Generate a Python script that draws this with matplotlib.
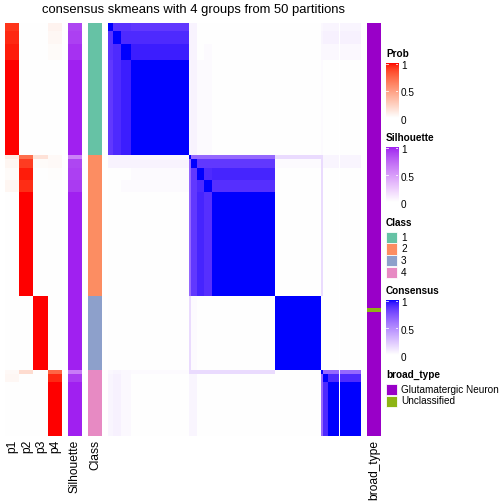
import numpy as np
import matplotlib
matplotlib.use('Agg')
import matplotlib.pyplot as plt
from matplotlib.colors import ListedColormap
from matplotlib.patches import Rectangle

plt.rcParams['font.family'] = ['Liberation Sans', 'DejaVu Sans']

# samples are ordered by class; each group is a run of samples with the same profile
# groups: A B C D | S32 E F G H | K | S84 M N
group_sizes = [2, 3, 4, 23, 1, 2, 3, 3, 25, 18, 1, 2, 13]
group_class = [1, 1, 1, 1, 2, 2, 2, 2, 2, 3, 4, 4, 4]
group_prob = [
    [0.92, 0.00, 0.00, 0.06],
    [0.95, 0.00, 0.00, 0.04],
    [0.97, 0.00, 0.00, 0.02],
    [1.00, 0.00, 0.00, 0.00],
    [0.10, 0.72, 0.15, 0.03],
    [0.05, 0.90, 0.02, 0.03],
    [0.02, 0.97, 0.00, 0.01],
    [0.05, 0.94, 0.00, 0.00],
    [0.00, 1.00, 0.00, 0.00],
    [0.00, 0.00, 1.00, 0.00],
    [0.03, 0.18, 0.00, 0.75],
    [0.04, 0.00, 0.00, 0.95],
    [0.00, 0.00, 0.00, 1.00],
]
group_sil = [0.88, 0.90, 0.95, 1.0, 0.62, 0.88, 0.90, 0.92, 1.0, 1.0, 0.65, 0.92, 1.0]
group_cons = [
    [1.00, 0.87, 0.87, 0.85, 0.05, 0.05, 0.00, 0.00, 0.00, 0.00, 0.03, 0.04, 0.04],
    [0.87, 1.00, 0.90, 0.90, 0.05, 0.05, 0.00, 0.00, 0.00, 0.00, 0.04, 0.06, 0.06],
    [0.87, 0.90, 1.00, 0.94, 0.05, 0.05, 0.00, 0.02, 0.00, 0.00, 0.03, 0.03, 0.03],
    [0.85, 0.90, 0.94, 1.00, 0.04, 0.05, 0.02, 0.02, 0.00, 0.00, 0.02, 0.00, 0.00],
    [0.05, 0.05, 0.05, 0.04, 1.00, 0.65, 0.65, 0.65, 0.65, 0.15, 0.15, 0.04, 0.04],
    [0.05, 0.05, 0.05, 0.05, 0.65, 1.00, 0.85, 0.85, 0.85, 0.02, 0.15, 0.04, 0.04],
    [0.00, 0.00, 0.00, 0.02, 0.65, 0.85, 1.00, 0.90, 0.92, 0.00, 0.15, 0.00, 0.00],
    [0.00, 0.00, 0.02, 0.02, 0.65, 0.85, 0.90, 1.00, 0.88, 0.00, 0.15, 0.00, 0.00],
    [0.00, 0.00, 0.00, 0.00, 0.65, 0.85, 0.92, 0.88, 1.00, 0.00, 0.15, 0.00, 0.00],
    [0.00, 0.00, 0.00, 0.00, 0.15, 0.02, 0.00, 0.00, 0.00, 1.00, 0.00, 0.00, 0.00],
    [0.03, 0.04, 0.03, 0.02, 0.15, 0.15, 0.15, 0.15, 0.15, 0.00, 1.00, 0.65, 0.65],
    [0.04, 0.06, 0.03, 0.00, 0.04, 0.04, 0.00, 0.00, 0.00, 0.00, 0.65, 1.00, 0.90],
    [0.04, 0.06, 0.03, 0.00, 0.04, 0.04, 0.00, 0.00, 0.00, 0.00, 0.65, 0.90, 1.00],
]
unclassified_samples = [69]

class_labels = ['1', '2', '3', '4']
class_colors = ['#66C2A5', '#FC8D62', '#8DA0CB', '#E78AC3']
type_labels = ['Glutamatergic Neuron', 'Unclassified']
type_colors = ['#9900C8', '#8DB414']
prob_names = ['p1', 'p2', 'p3', 'p4']
title = 'consensus skmeans with 4 groups from 50 partitions'

# expand groups to samples
g = np.repeat(np.arange(len(group_sizes)), group_sizes)
prob = np.array(group_prob)[g]
sil = np.array(group_sil)[g]
cls = np.array(group_class)[g]
cons = np.array(group_cons)[np.ix_(g, g)]
btype = np.zeros(len(g), int)
btype[unclassified_samples] = 1


# white -> colour ramps interpolated in LAB like circlize::colorRamp2
def to_lab(c):
    rgb = np.array(matplotlib.colors.to_rgb(c))
    lin = np.where(rgb <= 0.04045, rgb / 12.92, ((rgb + 0.055) / 1.055) ** 2.4)
    M = np.array([[0.4124, 0.3576, 0.1805], [0.2126, 0.7152, 0.0722], [0.0193, 0.1192, 0.9505]])
    xyz = M @ lin / np.array([0.95047, 1.0, 1.08883])
    f = np.where(xyz > 0.008856, np.cbrt(xyz), 7.787 * xyz + 16 / 116)
    return np.array([116 * f[1] - 16, 500 * (f[0] - f[1]), 200 * (f[1] - f[2])])


def from_lab(lab):
    fy = (lab[:, 0] + 16) / 116
    fx = fy + lab[:, 1] / 500
    fz = fy - lab[:, 2] / 200
    f = np.stack([fx, fy, fz], 1)
    xyz = np.where(f ** 3 > 0.008856, f ** 3, (f - 16 / 116) / 7.787) * np.array([0.95047, 1.0, 1.08883])
    Mi = np.array([[3.2406, -1.5372, -0.4986], [-0.9689, 1.8758, 0.0415], [0.0557, -0.2040, 1.0570]])
    lin = np.clip(xyz @ Mi.T, 0, 1)
    rgb = np.where(lin <= 0.0031308, 12.92 * lin, 1.055 * lin ** (1 / 2.4) - 0.055)
    return np.clip(rgb, 0, 1)


def ramp(c):
    t = np.linspace(0, 1, 256)[:, None]
    return ListedColormap(from_lab((1 - t) * to_lab('white') + t * to_lab(c)))


prob_cmap = ramp('red')
sil_cmap = ramp('#A020F0')
cons_cmap = ramp('blue')

W = H = 504
fig = plt.figure(figsize=(7, 7), dpi=72)


def box(x0, y0, x1, y1):
    ax = fig.add_axes([x0 / W, 1 - y1 / H, (x1 - x0) / W, (y1 - y0) / H])
    ax.set_axis_off()
    return ax


top, bot = 23, 436
kw = dict(aspect='auto', interpolation='nearest')

box(5, top, 62, bot).imshow(prob, cmap=prob_cmap, vmin=0, vmax=1, **kw)
box(68, top, 82, bot).imshow(sil[:, None], cmap=sil_cmap, vmin=0, vmax=1, **kw)
box(88, top, 102, bot).imshow(cls[:, None] - 1, cmap=ListedColormap(class_colors), vmin=-0.5, vmax=3.5, **kw)
axc = box(108, top, 361, bot)
axc.imshow(cons, cmap=cons_cmap, vmin=0, vmax=1, **kw)
axc.axvline(90.8, color='white', lw=1)
box(367, top, 381, bot).imshow(btype[:, None], cmap=ListedColormap(type_colors), vmin=-0.5, vmax=1.5, **kw)

fig.text(193 / W, 1 - 10 / H, title, ha='center', va='center', fontsize=13)

names = prob_names + ['Silhouette', 'Class', 'broad_type']
xs = [12.5, 27, 41, 55, 75, 95, 374]
for s, x in zip(names, xs):
    fig.text(x / W, 1 - 440 / H, s, rotation=90, ha='center', va='top', fontsize=12)


# legends
lx = 386


def colorbar(y0, name, cmap):
    fig.text(lx / W, 1 - (y0 - 9) / H, name, fontweight='bold', fontsize=10, va='center')
    ax = box(lx, y0, lx + 12, y0 + 55)
    ax.imshow(np.linspace(1, 0, 100)[:, None], cmap=cmap, vmin=0, vmax=1, aspect='auto',
              extent=[0, 1, 0, 1])
    ax.set_xlim(0, 1)
    ax.set_ylim(0, 1)
    for v in (0.5, 0.985):
        ax.plot([0, 0.2], [v, v], color='white', lw=0.8)
        ax.plot([0.8, 1], [v, v], color='white', lw=0.8)
    for v, s in zip([1, 0.5, 0], ['1', '0.5', '0']):
        fig.text((lx + 15) / W, 1 - (y0 + 3 + (1 - v) * 55) / H, s, va='center', fontsize=10)


def swatches(y0, name, labels, colors):
    fig.text(lx / W, 1 - (y0 - 9) / H, name, fontweight='bold', fontsize=10, va='center')
    for i, (s, c) in enumerate(zip(labels, colors)):
        yy = y0 + i * 11.5
        fig.add_artist(Rectangle((lx / W, 1 - (yy + 11) / H), 11 / W, 11 / H, facecolor=c,
                                 edgecolor='white', lw=0.8, transform=fig.transFigure))
        fig.text((lx + 15) / W, 1 - (yy + 6) / H, s, va='center', fontsize=10)


colorbar(63, 'Prob', prob_cmap)
colorbar(147, 'Silhouette', sil_cmap)
swatches(232, 'Class', class_labels, class_colors)
colorbar(300, 'Consensus', cons_cmap)
swatches(384, 'broad_type', type_labels, type_colors)

fig.savefig('out.png', dpi=72)
